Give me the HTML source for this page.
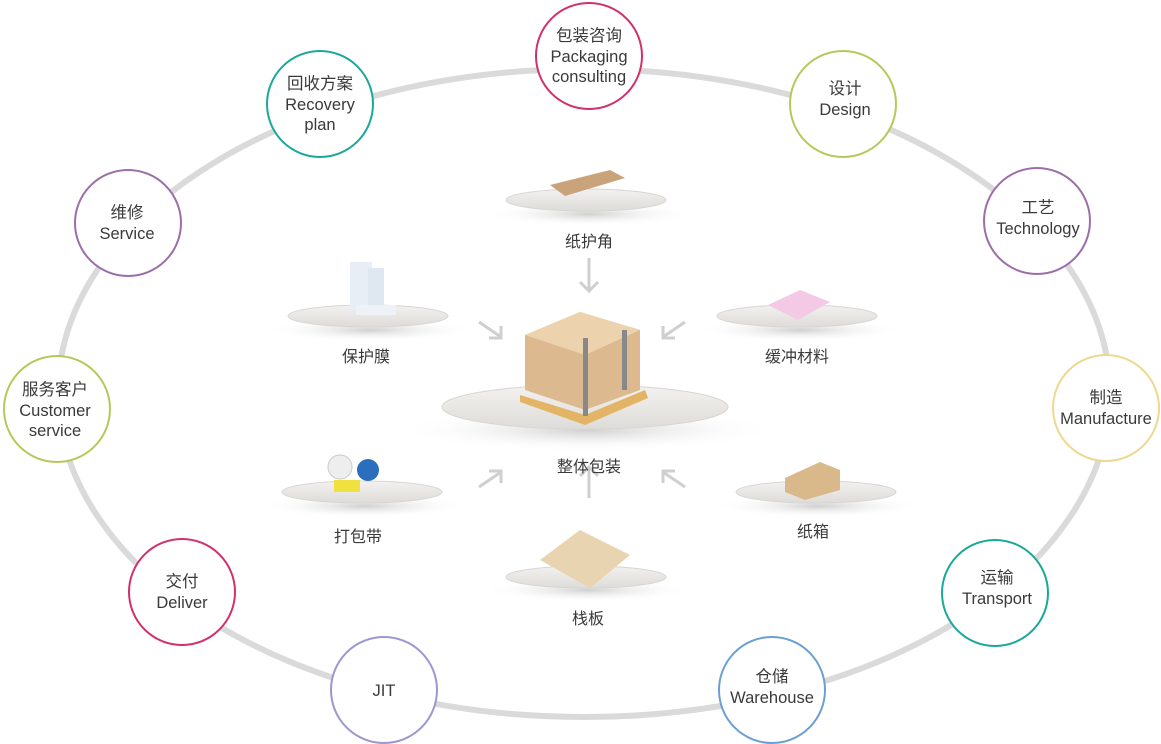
<!DOCTYPE html>
<html><head><meta charset="utf-8"><style>
html,body{margin:0;padding:0;background:#fff;}
svg{display:block;}
text{font-family:"Liberation Sans","Noto Sans CJK SC",sans-serif;fill:#3a3a3a;text-anchor:middle;}
</style></head><body>
<svg width="1161" height="744" viewBox="0 0 1161 744" xmlns="http://www.w3.org/2000/svg">
<defs>
<radialGradient id="sh" cx="50%" cy="50%" r="50%"><stop offset="0" stop-color="#bbb" stop-opacity=".7"/><stop offset="1" stop-color="#fff" stop-opacity="0"/></radialGradient>
<linearGradient id="pl" x1="0" y1="0" x2="0" y2="1"><stop offset="0" stop-color="#f3f2f0"/><stop offset="1" stop-color="#dedcd8"/></linearGradient>
</defs>
<ellipse cx="584" cy="393" rx="526" ry="324" fill="none" stroke="#dadada" stroke-width="6"/>
<g>
<ellipse cx="589" cy="214" rx="105" ry="12" fill="url(#sh)"/><ellipse cx="586" cy="200" rx="80" ry="11" fill="url(#pl)" stroke="#d8d6d2"/>
<ellipse cx="370" cy="330" rx="105" ry="12" fill="url(#sh)"/><ellipse cx="368" cy="316" rx="80" ry="11" fill="url(#pl)" stroke="#d8d6d2"/>
<ellipse cx="800" cy="330" rx="105" ry="12" fill="url(#sh)"/><ellipse cx="797" cy="316" rx="80" ry="11" fill="url(#pl)" stroke="#d8d6d2"/>
<ellipse cx="588" cy="430" rx="190" ry="22" fill="url(#sh)"/><ellipse cx="585" cy="407" rx="143" ry="22" fill="url(#pl)" stroke="#d8d6d2"/>
<ellipse cx="364" cy="506" rx="105" ry="12" fill="url(#sh)"/><ellipse cx="362" cy="492" rx="80" ry="11" fill="url(#pl)" stroke="#d8d6d2"/>
<ellipse cx="818" cy="506" rx="105" ry="12" fill="url(#sh)"/><ellipse cx="816" cy="492" rx="80" ry="11" fill="url(#pl)" stroke="#d8d6d2"/>
<ellipse cx="588" cy="590" rx="105" ry="12" fill="url(#sh)"/><ellipse cx="586" cy="577" rx="80" ry="11" fill="url(#pl)" stroke="#d8d6d2"/>
</g>
<g>
<polygon points="550,185 610,170 625,178 565,196" fill="#c9a37a"/>
<rect x="350" y="262" width="22" height="48" fill="#e8eef5"/><rect x="368" y="268" width="16" height="40" fill="#dfe7f0"/><rect x="356" y="305" width="40" height="10" fill="#eef1f5"/>
<polygon points="768,305 800,290 830,302 798,320" fill="#f3c9e6"/>
<polygon points="525,335 580,312 640,330 640,390 585,410 525,390" fill="#dcb98e"/>
<polygon points="525,335 585,355 640,330 580,312" fill="#ecd3ad"/>
<polygon points="520,395 585,415 645,390 648,398 585,425 520,402" fill="#e3b466"/>
<rect x="583" y="338" width="5" height="78" fill="#888"/><rect x="622" y="330" width="5" height="60" fill="#888"/>
<circle cx="340" cy="467" r="12" fill="#eee" stroke="#ccc"/><circle cx="368" cy="470" r="11" fill="#2a6fbd"/><rect x="334" y="480" width="26" height="12" fill="#f0e040"/>
<polygon points="785,478 820,462 840,470 840,490 805,500 785,492" fill="#d9b98a"/>
<polygon points="540,560 580,530 630,555 590,588" fill="#e8d4b0"/>
</g>
<g fill="none" stroke="#cfcfcf" stroke-width="3">
<path d="M589 258 v32 M580 282 l9 9 l9 -9"/>
<path d="M589 498 v-30 M580 476 l9 -9 l9 9"/>
<path d="M479 322 l22 15 M489 338 h12 v-12"/>
<path d="M685 322 l-22 15 M675 338 h-12 v-12"/>
<path d="M479 487 l22 -15 M489 471 h12 v12"/>
<path d="M685 487 l-22 -15 M675 471 h-12 v12"/>
</g>
<g font-size="16">
<text x="589" y="247">纸护角</text>
<text x="366" y="362">保护膜</text>
<text x="797" y="362">缓冲材料</text>
<text x="589" y="472">整体包装</text>
<text x="358" y="542">打包带</text>
<text x="813" y="537">纸箱</text>
<text x="588" y="624">栈板</text>
</g>
<g fill="#fff" stroke-width="2">
<circle cx="589" cy="56" r="53" stroke="#d0306e"/>
<circle cx="843" cy="104" r="53" stroke="#b5c95a"/>
<circle cx="1037" cy="221" r="53" stroke="#9b6ea8"/>
<circle cx="1106" cy="408" r="53" stroke="#eed790"/>
<circle cx="995" cy="593" r="53" stroke="#1aa89a"/>
<circle cx="772" cy="690" r="53" stroke="#6b9fd4"/>
<circle cx="384" cy="690" r="53" stroke="#9b97d0"/>
<circle cx="182" cy="592" r="53" stroke="#d0306e"/>
<circle cx="57" cy="409" r="53" stroke="#b5c95a"/>
<circle cx="128" cy="223" r="53" stroke="#9b6ea8"/>
<circle cx="320" cy="104" r="53" stroke="#1aa89a"/>
</g>
<g font-size="16.5">
<text x="589" y="41">包装咨询</text><text x="589" y="62">Packaging</text><text x="589" y="82">consulting</text>
<text x="845" y="94">设计</text><text x="845" y="115">Design</text>
<text x="1038" y="213">工艺</text><text x="1038" y="234">Technology</text>
<text x="1106" y="403">制造</text><text x="1106" y="424">Manufacture</text>
<text x="997" y="583">运输</text><text x="997" y="604">Transport</text>
<text x="772" y="682">仓储</text><text x="772" y="703">Warehouse</text>
<text x="384" y="696">JIT</text>
<text x="182" y="587">交付</text><text x="182" y="608">Deliver</text>
<text x="55" y="395">服务客户</text><text x="55" y="416">Customer</text><text x="55" y="436">service</text>
<text x="127" y="218">维修</text><text x="127" y="239">Service</text>
<text x="320" y="89">回收方案</text><text x="320" y="110">Recovery</text><text x="320" y="130">plan</text>
</g>
</svg>
</body></html>
